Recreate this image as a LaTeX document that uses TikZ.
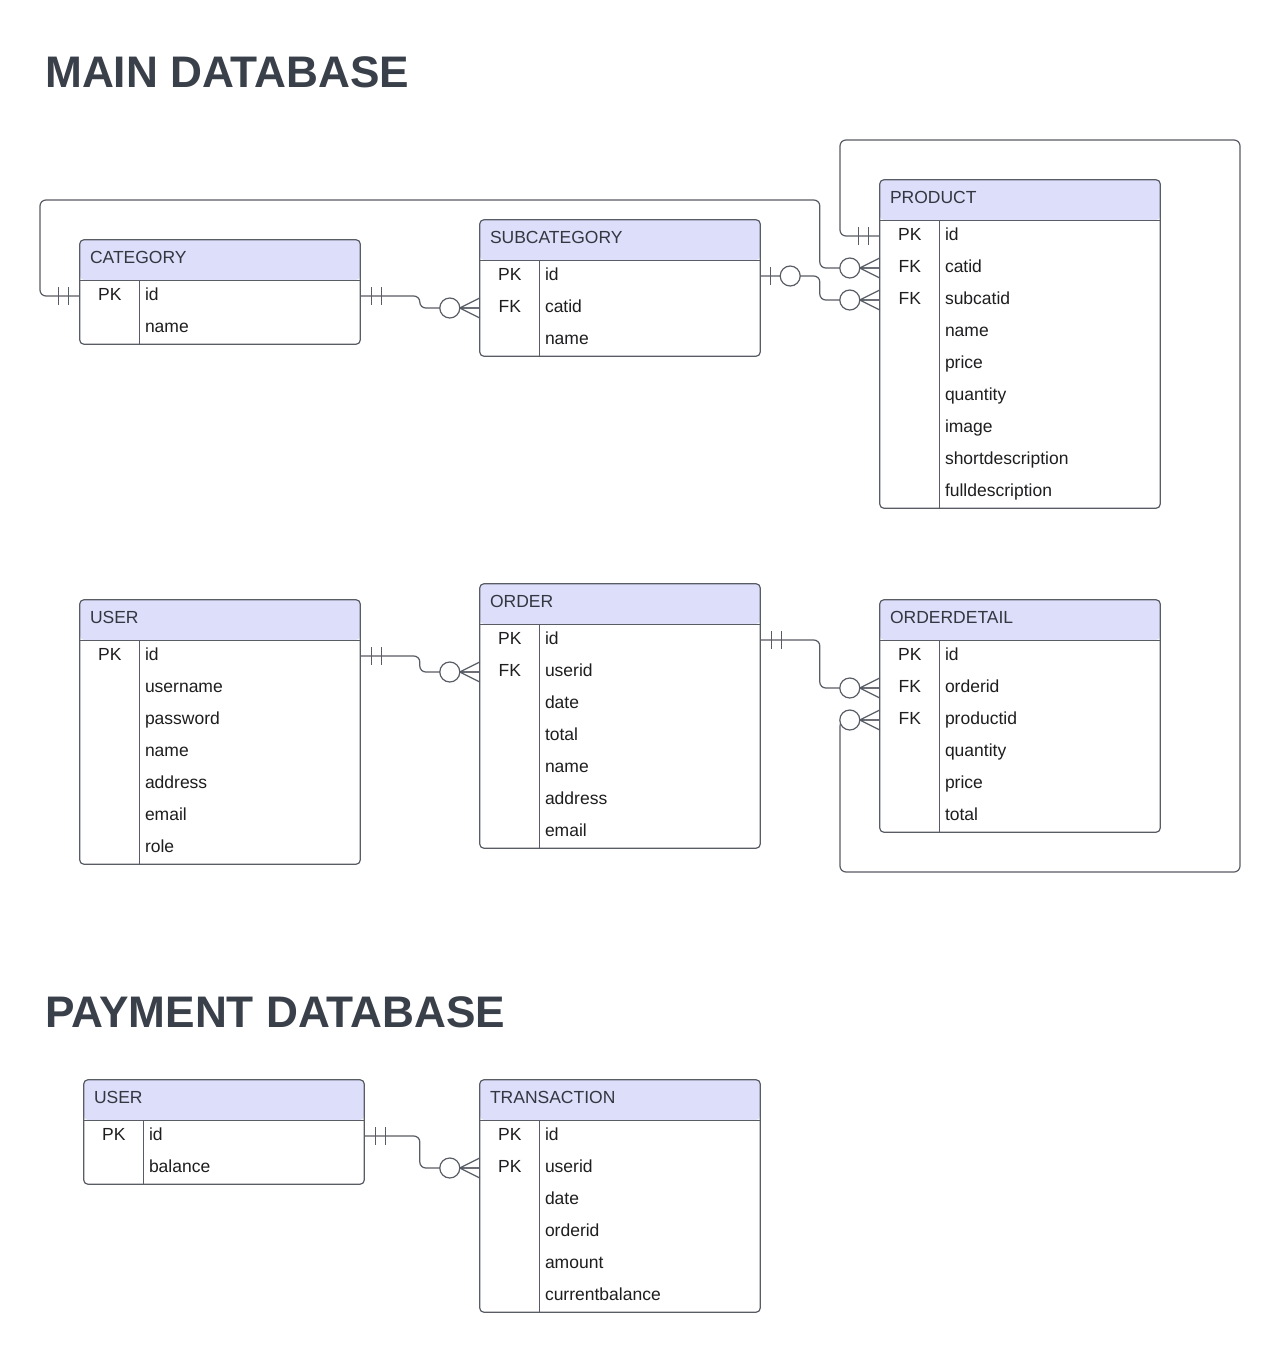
\documentclass[tikz,border=0pt]{standalone}
\usepackage{fontspec}
\setmainfont{Liberation Sans}
\usepackage{tikz}
\usetikzlibrary{calc}
\definecolor{headfill}{RGB}{221,222,250}
\definecolor{linegray}{RGB}{88,92,100}
\definecolor{titlegray}{RGB}{58,64,74}
\definecolor{headtext}{RGB}{50,55,64}
\definecolor{textgray}{RGB}{30,30,32}
\tikzstyle{title}=[anchor=base west, inner sep=0pt, text=titlegray, font=\fontsize{44.2}{50}\selectfont\bfseries]
\tikzstyle{head}=[fill=headfill, rounded corners=4pt, minimum height=40pt, text width=260pt, inner xsep=10pt, inner ysep=0pt, align=left, text=headtext, text height=12.5pt, text depth=5pt]
\tikzstyle{row}=[minimum height=32pt, text width=150pt, inner xsep=65pt, inner ysep=0pt, align=left, text height=12.5pt, text depth=3.5pt]
\tikzstyle{key}=[anchor=center, xshift=30pt, inner sep=0pt, text height=12.5pt, text depth=3.5pt]
\tikzstyle{frame}=[draw=linegray, line width=1.2pt]
\tikzstyle{rel}=[draw=linegray, line width=1.2pt, rounded corners=6pt]
\tikzstyle{tick}=[draw=linegray, line width=1.2pt]
\tikzset{
  one/.pic={\draw[tick] (11,-9) -- (11,9) (21,-9) -- (21,9);},
  zeroone/.pic={\draw[tick] (10,-9) -- (10,9); \draw[tick, fill=white] (30,0) circle (10pt);},
  many/.pic={\draw[tick] (-20,0) -- (0,-10) (-20,0) -- (0,0) (-20,0) -- (0,10); \draw[tick, fill=white] (-30,0) circle (10pt);}
}

\begin{document}
\begin{tikzpicture}[x=1pt, y=-1pt, font=\fontsize{17.5}{21}\selectfont, text=textgray]
  \useasboundingbox[fill=white] (0,0) rectangle (1281,1352);
  \node(maintitle) [title] at (45,87) {MAIN DATABASE};
  \node(paytitle) [title] at (45,1027) {PAYMENT DATABASE};

  \node(cat) [head] at (220,260) {CATEGORY};
  \foreach \k/\f [count=\i] in {PK/id, /name}
    \node(cat-\i) [row, label={[key]west:\k}] at (220,264+32*\i) {\f};
  \node(sub) [head] at (620,240) {SUBCATEGORY};
  \foreach \k/\f [count=\i] in {PK/id, FK/catid, /name}
    \node(sub-\i) [row, label={[key]west:\k}] at (620,244+32*\i) {\f};
  \node(prod) [head] at (1020,200) {PRODUCT};
  \foreach \k/\f [count=\i] in {PK/id, FK/catid, FK/subcatid, /name, /price, /quantity, /image, /shortdescription, /fulldescription}
    \node(prod-\i) [row, label={[key]west:\k}] at (1020,204+32*\i) {\f};
  \node(user) [head] at (220,620) {USER};
  \foreach \k/\f [count=\i] in {PK/id, /username, /password, /name, /address, /email, /role}
    \node(user-\i) [row, label={[key]west:\k}] at (220,624+32*\i) {\f};
  \node(ord) [head] at (620,604) {ORDER};
  \foreach \k/\f [count=\i] in {PK/id, FK/userid, /date, /total, /name, /address, /email}
    \node(ord-\i) [row, label={[key]west:\k}] at (620,608+32*\i) {\f};
  \node(od) [head] at (1020,620) {ORDERDETAIL};
  \foreach \k/\f [count=\i] in {PK/id, FK/orderid, FK/productid, /quantity, /price, /total}
    \node(od-\i) [row, label={[key]west:\k}] at (1020,624+32*\i) {\f};
  \node(puser) [head] at (224,1100) {USER};
  \foreach \k/\f [count=\i] in {PK/id, /balance}
    \node(puser-\i) [row, label={[key]west:\k}] at (224,1104+32*\i) {\f};
  \node(trans) [head] at (620,1100) {TRANSACTION};
  \foreach \k/\f [count=\i] in {PK/id, PK/userid, /date, /orderid, /amount, /currentbalance}
    \node(trans-\i) [row, label={[key]west:\k}] at (620,1104+32*\i) {\f};

  % table frames
  \foreach \t/\n in {cat/2, sub/3, prod/9, user/7, ord/7, od/6, puser/2, trans/6} {
    \draw[frame, rounded corners=4pt] (\t.north west) rectangle (\t-\n.south east);
    \draw[frame] (\t.south west) -- (\t.south east);
    \draw[frame] ([xshift=60pt]\t.south west) -- ([xshift=60pt]\t-\n.south west);
  }

  \coordinate(catloop) at (40,200);
  \coordinate(prodloop) at (840,140);
  \coordinate(prodturn) at (1240,872);
  \coordinate(prodback) at (840,872);
  \draw[rel] (cat-1.east) -| ([xshift=-60pt]sub-2.west) -- (sub-2.west);
  \draw[rel] (cat-1.west) -| (catloop) -| ([xshift=-60pt]prod-2.west) -- (prod-2.west);
  \draw[rel] (sub-1.east) -| ([xshift=-60pt]prod-3.west) -- (prod-3.west);
  \draw[rel] (prod-1.west) -| (prodloop) -| (prodturn) -- (prodback) |- (od-3.west);
  \draw[rel] (user-1.east) -| ([xshift=-60pt]ord-2.west) -- (ord-2.west);
  \draw[rel] (ord-1.east) -| ([xshift=-60pt]od-2.west) -- (od-2.west);
  \draw[rel] (puser-1.east) -| ([xshift=-60pt]trans-2.west) -- (trans-2.west);

  \path (cat-1.east) pic {one} (sub-2.west) pic {many};
  \path (cat-1.west) pic[xscale=-1] {one} (prod-2.west) pic {many};
  \path (sub-1.east) pic {zeroone} (prod-3.west) pic {many};
  \path (prod-1.west) pic[xscale=-1] {one} (od-3.west) pic {many};
  \path (user-1.east) pic {one} (ord-2.west) pic {many};
  \path (ord-1.east) pic {one} (od-2.west) pic {many};
  \path (puser-1.east) pic {one} (trans-2.west) pic {many};
\end{tikzpicture}
\end{document}
